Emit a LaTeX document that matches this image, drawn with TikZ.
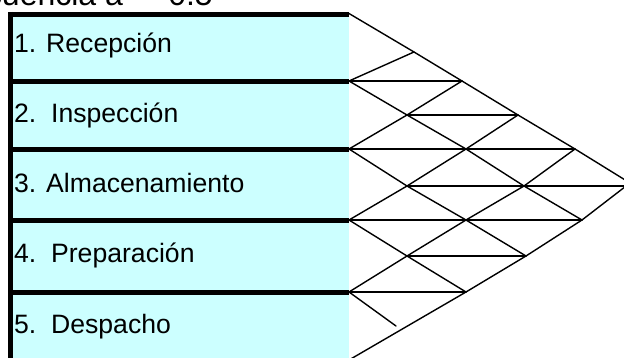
\documentclass[tikz,border=0pt]{standalone}
\usepackage{fontspec}
\setmainfont{Liberation Sans}
\definecolor{rowfill}{HTML}{CCFFFF}
\begin{document}
\begin{tikzpicture}[x=1pt,y=-1pt,
  gridline/.style={line width=1.4pt, line cap=round, line join=round},
  barline/.style={line width=5pt},
  lbl/.style={anchor=base west, inner sep=0pt, font=\fontsize{26.6}{30}\selectfont},
  ttl/.style={anchor=base east, inner sep=0pt, font=\fontsize{32}{36}\selectfont}]
\useasboundingbox (0,0) rectangle (624,358);
\clip (0,0) rectangle (624,358);
% row fills
\fill[rowfill] (10,12) rectangle (349,365);
% title (clipped at top)
\node[ttl] (title) at (213,5.5) {Secuencia a\ \ = 0.5};
% labels
\node[lbl] (n1) at (14,53) {1. Recepción};
\node[lbl] (n2) at (14,123) {2.\ \ Inspección};
\node[lbl] (n3) at (14,193) {3. Almacenamiento};
\node[lbl] (n4) at (14,262) {4.\ \ Preparación};
\node[lbl] (n5) at (14,333) {5.\ \ Despacho};
% lattice coordinates
\coordinate (L0) at (349,13.5);
\coordinate (L1) at (349,81);
\coordinate (L2) at (349,149);
\coordinate (L3) at (349,220);
\coordinate (L4) at (349,292);
\coordinate (L5) at (349,360);
\coordinate (T1) at (414,52);
\coordinate (T2) at (462,81);
\coordinate (T3) at (518,115);
\coordinate (T4) at (575,149);
\coordinate (A) at (630,183);
\coordinate (C12) at (407,115);
\coordinate (C13) at (466,149);
\coordinate (C14) at (524,186);
\coordinate (C15) at (582,220);
\coordinate (C23) at (407,186);
\coordinate (C24) at (466,220);
\coordinate (C25) at (526,256);
\coordinate (C34) at (407,256);
\coordinate (C35) at (466,292);
\coordinate (C45) at (396,326);
\coordinate (R5) at (640,186);
% thick bars
\foreach \y in {14.5,81.5,150,220.5,292.5}
  \draw[barline] (8,\y) -- (349,\y);
\draw[barline] (10.5,12) -- (10.5,362);
% top and bottom diagonals
\draw[gridline] (L0) -- (T1) -- (T2) -- (T3) -- (T4) -- (A);
\draw[gridline] (L5) -- (C35) -- (C25) -- (C15) -- (A);
% down-right lines
\draw[gridline] (L1) -- (C12) -- (C13) -- (C14) -- (C15);
\draw[gridline] (L2) -- (C23) -- (C24) -- (C25);
\draw[gridline] (L3) -- (C34) -- (C35);
\draw[gridline] (L4) -- (C45);
% up-right lines
\draw[gridline] (L4) -- (C34) -- (C24) -- (C14) -- (T4);
\draw[gridline] (L3) -- (C23) -- (C13) -- (T3);
\draw[gridline] (L2) -- (C12) -- (T2);
\draw[gridline] (L1) -- (T1);
% horizontals
\draw[gridline] (L1) -- (T2);
\draw[gridline] (C12) -- (T3);
\draw[gridline] (L2) -- (T4);
\draw[gridline] (C23) -- (R5);
\draw[gridline] (L3) -- (C15);
\draw[gridline] (C34) -- (C25);
\draw[gridline] (L4) -- (C35);
\end{tikzpicture}
\end{document}
